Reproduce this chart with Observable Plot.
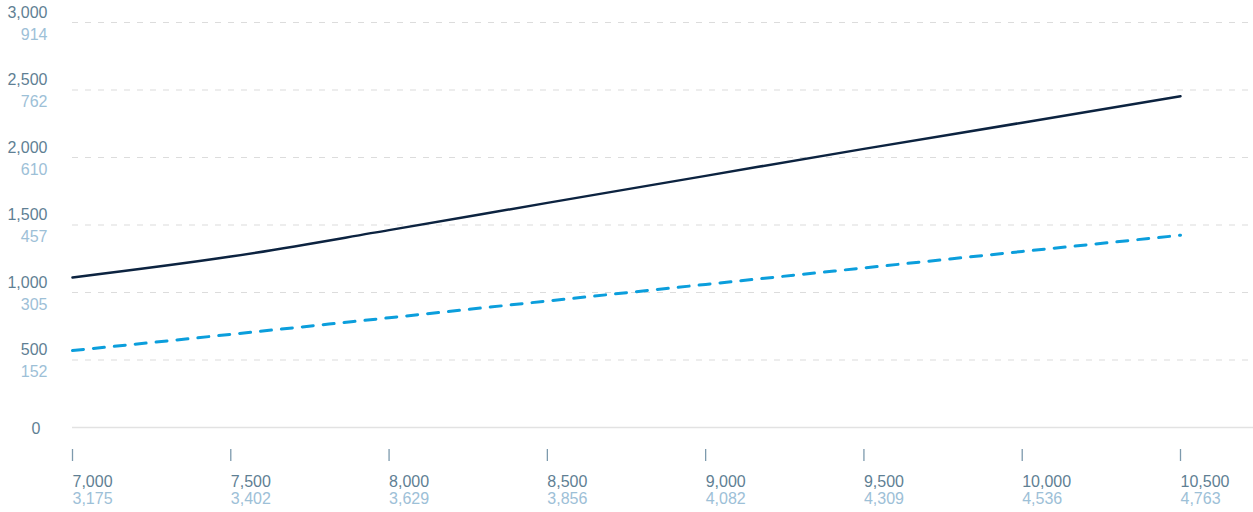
<!DOCTYPE html>
<html>
<head>
<meta charset="utf-8">
<script src="https://cdn.jsdelivr.net/npm/d3@7"></script>
<script src="https://cdn.jsdelivr.net/npm/@observablehq/plot@0.6"></script>
<style>
  html, body { margin: 0; padding: 0; background: #fff; }
  #chart svg { display: block; }
</style>
</head>
<body>
<div id="chart"></div>
<script>
// Weight (lbs) ticks and their kg equivalents
const xTicks = [7000, 7500, 8000, 8500, 9000, 9500, 10000, 10500];
const xTicksKg = ["3,175", "3,402", "3,629", "3,856", "4,082", "4,309", "4,536", "4,763"];

// Altitude (ft) ticks and their metre equivalents
const yTicks = [0, 500, 1000, 1500, 2000, 2500, 3000];
const yTicksM = ["", "152", "305", "457", "610", "762", "914"];

// Series
const weights = [7000, 7500, 8000, 8500, 9000, 9500, 10000, 10500];
const solidFt = [1111, 1266, 1462, 1664, 1864, 2064, 2258, 2454];
const dashedFt = [570, 690, 813, 937, 1060, 1182, 1304, 1424];

const solidData = weights.map((w, i) => ({w, v: solidFt[i]}));
const dashedData = weights.map((w, i) => ({w, v: dashedFt[i]}));
const yLabelData = yTicks.map((t, i) => ({t, m: yTicksM[i]}));
const xLabelData = xTicks.map((t, i) => ({t, kg: xTicksKg[i]}));

const ftColor = "#5f7f94";
const mColor = "#9dc0d7";
const fmt = d3.format(",");

const chart = Plot.plot({
  width: 1253,
  height: 512,
  marginLeft: 72,
  marginRight: 0,
  marginTop: 22,
  marginBottom: 85,
  x: {domain: [7000, 10500], range: [72, 1180], axis: null},
  y: {domain: [0, 3000], axis: null},
  style: {fontFamily: "'Liberation Sans', Arial, sans-serif", fontSize: "16px", background: "#fff", overflow: "visible"},
  marks: [
    Plot.ruleY(yTicks.filter(d => d > 0), {stroke: "#dcdcdc", strokeOpacity: 1, strokeWidth: 1.2, strokeDasharray: "6,7"}),
    Plot.ruleY([0], {stroke: "#e2e2e2", strokeWidth: 1.6}),
    // y labels: ft above gridline, m below
    Plot.text(yLabelData.filter(d => d.t > 0), {y: "t", text: d => fmt(d.t), frameAnchor: "left", lineAnchor: "middle", dx: -25, dy: -10, textAnchor: "end", fill: ftColor}),
    Plot.text(yLabelData.filter(d => d.t > 0), {y: "t", text: "m", frameAnchor: "left", lineAnchor: "middle", dx: -25, dy: 12, textAnchor: "end", fill: mColor}),
    Plot.text(yLabelData.filter(d => d.t === 0), {y: "t", text: d => fmt(d.t), frameAnchor: "left", lineAnchor: "middle", dx: -32, dy: 1, textAnchor: "end", fill: ftColor}),
    // x ticks
    Plot.axisX({ticks: xTicks, tickSize: 12, tickFormat: () => "", dy: 22, stroke: "#7d9aad", strokeWidth: 1.3}),
    // x labels
    Plot.text(xLabelData, {x: "t", text: d => fmt(d.t), frameAnchor: "bottom", lineAnchor: "middle", dy: 54, textAnchor: "start", fill: ftColor}),
    Plot.text(xLabelData, {x: "t", text: "kg", frameAnchor: "bottom", lineAnchor: "middle", dy: 71, textAnchor: "start", fill: mColor}),
    // lines
    Plot.lineY(dashedData, {x: "w", y: "v", stroke: "#0b9edc", strokeWidth: 3, strokeDasharray: "11,10", curve: "monotone-x"}),
    Plot.lineY(solidData, {x: "w", y: "v", stroke: "#0c2340", strokeWidth: 2.5, curve: "monotone-x"})
  ]
});
document.getElementById("chart").appendChild(chart);
</script>
</body>
</html>
